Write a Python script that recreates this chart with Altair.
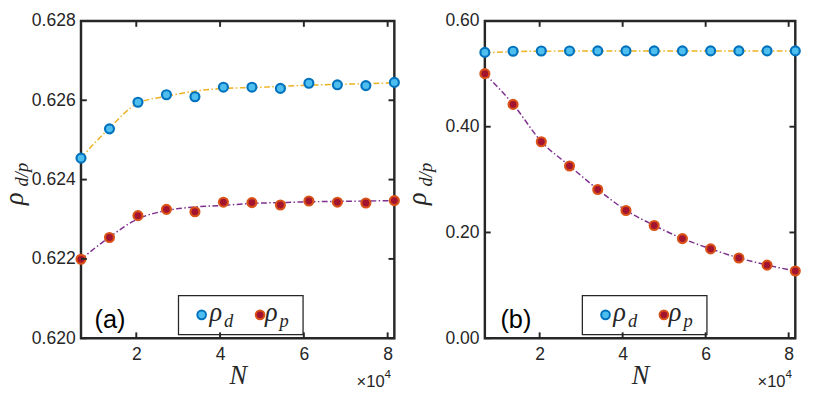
import altair as alt
import pandas as pd

# ---------------- data ----------------
N = [6800, 13600, 20400, 27200, 34000, 40800, 47600, 54400, 61200, 68000, 74800, 81600]

# panel (a)
rho_d_a = [0.62454, 0.62528, 0.62595, 0.62614, 0.62609, 0.62633,
           0.62633, 0.62630, 0.62643, 0.62639, 0.62637, 0.62645]
rho_p_a = [0.62199, 0.62254, 0.62309, 0.62325, 0.62319, 0.62343,
           0.62342, 0.62336, 0.62346, 0.62343, 0.62341, 0.62347]
fit_d_a = [0.62455, 0.62530, 0.62593, 0.62610, 0.62623, 0.62630,
           0.62632, 0.62635, 0.62638, 0.62640, 0.62642, 0.62644]
fit_p_a = [0.62199, 0.62255, 0.62301, 0.62322, 0.62331, 0.62335,
           0.62340, 0.62342, 0.62344, 0.62345, 0.62346, 0.62347]

# panel (b)
rho_d_b = [0.5405, 0.5428, 0.5432, 0.5433, 0.5434, 0.5434,
           0.5434, 0.5434, 0.5434, 0.5434, 0.5434, 0.5434]
rho_p_b = [0.5003, 0.4422, 0.3715, 0.3258, 0.2813, 0.2416,
           0.2132, 0.1884, 0.1689, 0.1518, 0.1382, 0.1271]
fit_d_b = [0.5395, 0.5420, 0.5428, 0.5431, 0.5432, 0.5433,
           0.5433, 0.5433, 0.5433, 0.5433, 0.5433, 0.5433]
fit_p_b = [0.5000, 0.4425, 0.3720, 0.3260, 0.2815, 0.2418,
           0.2133, 0.1886, 0.1690, 0.1519, 0.1383, 0.1272]

series_names = ["ρd", "ρp"]
series_subs = ["d", "p"]
x_ticks = [20000, 40000, 60000, 80000]
y_ticks_a = [0.620, 0.622, 0.624, 0.626, 0.628]
y_ticks_b = [0.0, 0.2, 0.4, 0.6]
panel_tags = ["(a)", "(b)"]
y_title = ["ρ", "d/p"]
x_title = "N"
exp_base = ["×10"]
exp_power = ["4"]

# ---------------- styling ----------------
SANS = "Liberation Sans"
SERIF = "Liberation Serif"
TXT = "#262626"
FRAME = "#262626"
FILLS = ["#4DBEEE", "#A2142F"]
STROKES = ["#0072BD", "#D95319"]
FIT_COLORS = ["#EDB120", "#7E2F8E"]
DASH = [6, 2.5, 1.5, 2.5]


def txt(s, **kw):
    return alt.Chart(pd.DataFrame({"t": [s]})).mark_text(**kw)


def panel(tag, tag_x, d, p, fd, fp, ydom, yticks, yfmt, W, H):
    xs = alt.Scale(domain=[N[0], N[-1]], nice=False, zero=False)
    ys = alt.Scale(domain=ydom, nice=False, zero=False)

    xax = alt.Axis(values=x_ticks, labelExpr="format(datum.value/10000,'d')",
                   ticks=False, domain=False, grid=False,
                   labelFont=SANS, labelFontSize=18, labelColor=TXT, labelPadding=8,
                   title=x_title, titleFont=SERIF, titleFontStyle="italic",
                   titleFontWeight="normal", titleFontSize=27, titleColor=TXT,
                   titlePadding=0)
    yax = alt.Axis(values=yticks, format=yfmt, ticks=False, domain=False, grid=False,
                   labelFont=SANS, labelFontSize=18, labelColor=TXT, labelPadding=6,
                   title=None)

    pts = pd.DataFrame({"N": N + N, "v": d + p,
                        "s": [series_names[0]] * len(N) + [series_names[1]] * len(N)})
    fits = pd.DataFrame({"N": N, "fd": fd, "fp": fp})

    # legend box + symbols from Vega-Lite; the room for the labels is kept with
    # labelOffset, and rho_d / rho_p (with subscripts) are drawn as text marks.
    legend = alt.Legend(orient="none", legendX=100, legendY=H - 44, direction="horizontal",
                        title=None, labelExpr="''", labelFont=SERIF,
                        labelFontSize=28, labelOffset=24, symbolType="circle",
                        symbolSize=80, symbolStrokeWidth=2, symbolOffset=4,
                        columnPadding=4, padding=6, strokeColor=FRAME)

    X = lambda f: alt.X(f, scale=xs, axis=xax)
    Y = lambda f: alt.Y(f, scale=ys, axis=yax)

    points = alt.Chart(pts).mark_point(filled=True, size=85, strokeWidth=2.2,
                                       opacity=1).encode(
        x=X("N:Q"), y=Y("v:Q"),
        fill=alt.Fill("s:N", scale=alt.Scale(domain=series_names, range=FILLS), legend=legend),
        stroke=alt.Stroke("s:N", scale=alt.Scale(domain=series_names, range=STROKES), legend=legend),
    )

    line_d = alt.Chart(fits).mark_line(color=FIT_COLORS[0], strokeWidth=1.5, strokeDash=DASH,
                                       interpolate="monotone").encode(x=X("N:Q"), y=Y("fd:Q"))
    line_p = alt.Chart(fits).mark_line(color=FIT_COLORS[1], strokeWidth=1.5, strokeDash=DASH,
                                       interpolate="monotone").encode(x=X("N:Q"), y=Y("fp:Q"))

    xt = pd.DataFrame({"t": x_ticks})
    yt = pd.DataFrame({"t": yticks})
    tick_b = alt.Chart(xt).mark_rule(color=FRAME, strokeWidth=2).encode(
        x=X("t:Q"), y=alt.value(H), y2=alt.value(H - 6))
    tick_t = alt.Chart(xt).mark_rule(color=FRAME, strokeWidth=2).encode(
        x=X("t:Q"), y=alt.value(0), y2=alt.value(6))
    tick_l = alt.Chart(yt).mark_rule(color=FRAME, strokeWidth=2).encode(
        y=Y("t:Q"), x=alt.value(0), x2=alt.value(6))
    tick_r = alt.Chart(yt).mark_rule(color=FRAME, strokeWidth=2).encode(
        y=Y("t:Q"), x=alt.value(W), x2=alt.value(W - 6))

    deco = []
    # panel tag
    deco.append(txt(tag, align="left", baseline="alphabetic", font=SANS, fontSize=26,
                    color="black").encode(text="t:N", x=alt.value(tag_x), y=alt.value(H - 11)))
    # x10^4 multiplier
    deco.append(txt(exp_base[0], align="right", baseline="alphabetic", font=SANS, fontSize=17,
                    color=TXT).encode(text="t:N", x=alt.value(W - 10), y=alt.value(H + 50)))
    deco.append(txt(exp_power[0], align="left", baseline="alphabetic", font=SANS, fontSize=12,
                    color=TXT).encode(text="t:N", x=alt.value(W - 10), y=alt.value(H + 41)))
    # y-axis title rho_{d/p}
    deco.append(txt(y_title[0], align="left", baseline="alphabetic", angle=270, font=SERIF,
                    fontStyle="italic", fontSize=27, color=TXT).encode(
        text="t:N", x=alt.value(-60), y=alt.value(H / 2 + 26)))
    deco.append(txt(y_title[1], align="left", baseline="alphabetic", angle=270, font=SERIF,
                    fontStyle="italic", fontSize=19, color=TXT).encode(
        text="t:N", x=alt.value(-54), y=alt.value(H / 2 + 7)))
    # legend labels rho_d, rho_p
    for lx, sub in zip([132, 189], series_subs):
        deco.append(txt("ρ", align="left", baseline="alphabetic", font=SERIF,
                        fontStyle="italic", fontSize=27, color=TXT).encode(
            text="t:N", x=alt.value(lx), y=alt.value(H - 18)))
        deco.append(txt(sub, align="left", baseline="alphabetic", font=SERIF,
                        fontStyle="italic", fontSize=19, color=TXT).encode(
            text="t:N", x=alt.value(lx + 15), y=alt.value(H - 12)))

    return alt.layer(line_d, line_p, points, tick_b, tick_t, tick_l, tick_r,
                     *deco).properties(width=W, height=H)


H = 326
left = panel(panel_tags[0], 14, rho_d_a, rho_p_a, fit_d_a, fit_p_a, [0.620, 0.628],
             y_ticks_a, ".3f", 322, H)
right = panel(panel_tags[1], 16, rho_d_b, rho_p_b, fit_d_b, fit_p_b, [0.0, 0.6],
              y_ticks_b, ".2f", 319, H)

chart = alt.hconcat(left, right, spacing=-2).resolve_scale(
    fill="independent", stroke="independent"
).properties(
    padding={"left": -9, "top": -3, "right": 0, "bottom": -3}, background="white"
).configure_view(
    stroke=FRAME, strokeWidth=2.5
).configure_legend(
    strokeWidth=1.3
)

chart.save("out.html", embed_options={"renderer": "svg", "actions": False})
